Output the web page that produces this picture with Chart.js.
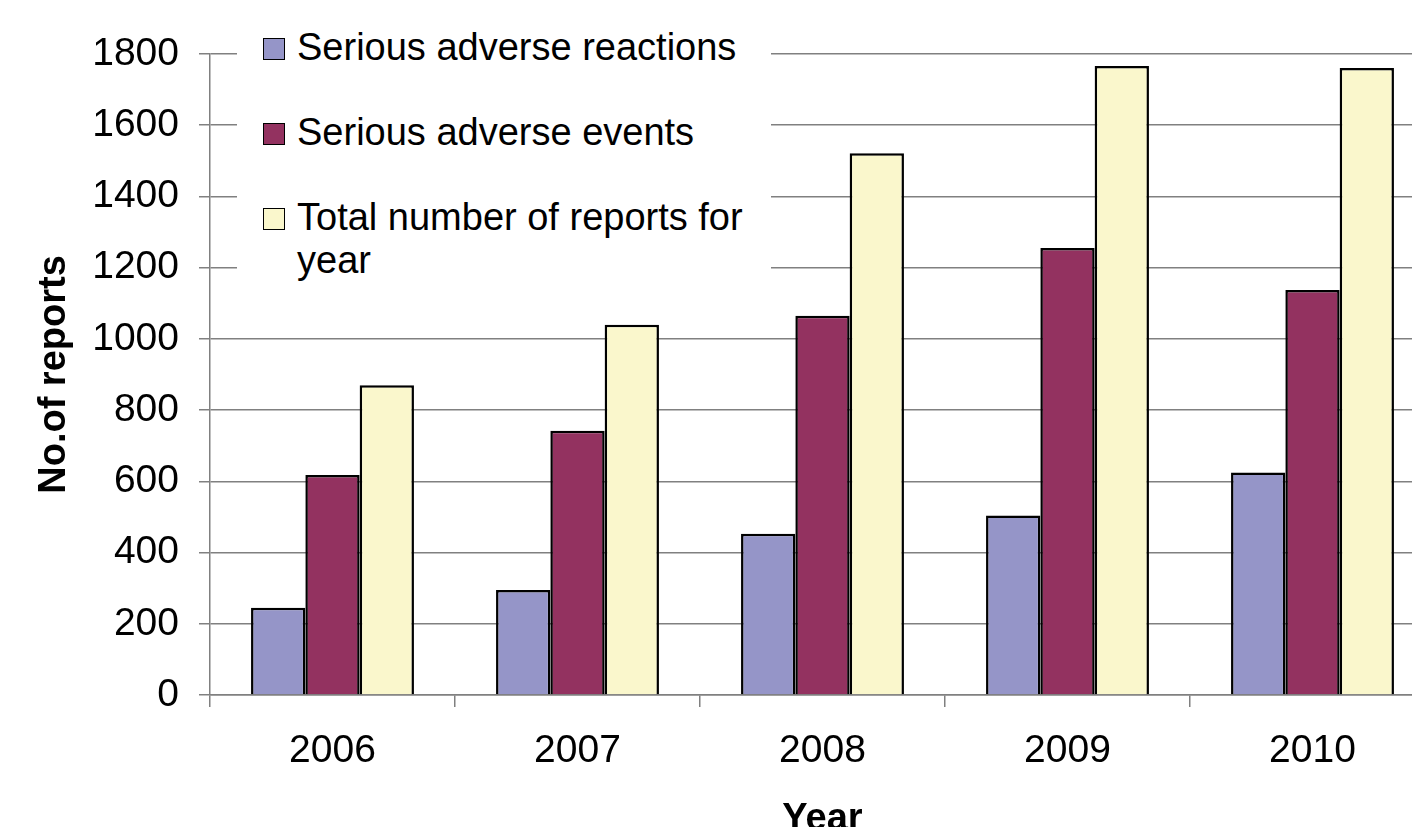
<!DOCTYPE html>
<html>
<head>
<meta charset="utf-8">
<title>Reports per year</title>
<script src="https://cdn.jsdelivr.net/npm/chart.js@4.4.1/dist/chart.umd.min.js"></script>
<style>
    html, body { margin: 0; padding: 0; background: #fff; overflow: hidden; }
    #wrap { position: relative; width: 1440px; height: 850px; }
    #legend {
        position: absolute; left: 237px; top: 18px; width: 534px; height: 270px;
        background: #fff; box-sizing: border-box; padding: 8px 0 0 26px;
        font-family: "Liberation Sans", Arial, sans-serif; font-size: 38px; line-height: 43px; color: #000;
    }
    .item { display: flex; align-items: flex-start; margin-bottom: 42px; }
    .swatch { width: 20px; height: 20px; border: 1.5px solid #000; margin-top: 12px; margin-right: 12px; flex: none; }
    .label { width: 470px; }
</style>
</head>
<body>
<div id="wrap">
    <canvas id="reportsChart"></canvas>
    <div id="legend"></div>
</div>
<script>
// Data
const years = ['2006', '2007', '2008', '2009', '2010'];
const seriousReactions = [245, 295, 453, 504, 625];
const seriousEvents = [618, 742, 1065, 1255, 1137];
const totalReports = [870, 1040, 1521, 1766, 1761];
const seriesNames = ['Serious adverse reactions', 'Serious adverse events', 'Total number of reports for year'];
const seriesColors = ['#9595c8', '#933260', '#faf7cc'];

const FONT = '"Liberation Sans", Arial, sans-serif';
const gridGrey = '#808080';

const ctx = document.getElementById('reportsChart').getContext('2d');
const reportsChart = new Chart(ctx, {
    type: 'bar',
    data: {
        labels: years,
        datasets: [seriousReactions, seriousEvents, totalReports].map((values, i) => ({
            label: seriesNames[i],
            data: values,
            backgroundColor: seriesColors[i],
            borderColor: '#000',
            borderWidth: 2.5,
            categoryPercentage: 0.665,
            barPercentage: 1.0
        }))
    },
    options: {
        responsive: true,
        maintainAspectRatio: false,
        animation: false,
        devicePixelRatio: 1,
        layout: { padding: { top: 54, right: 5, left: 0, bottom: 0 } },
        plugins: {
            legend: { display: false },
            tooltip: { enabled: false }
        },
        scales: {
            x: {
                grid: { drawOnChartArea: false, drawTicks: true, tickLength: 12, offset: true, color: gridGrey, lineWidth: 1.5 },
                border: { color: gridGrey, width: 1.5 },
                ticks: { color: '#000', padding: 21, font: { family: FONT, size: 39 } },
                title: { display: true, text: 'Year', color: '#000', padding: { top: 0, bottom: 8 }, font: { family: FONT, size: 38, weight: 'bold' } },
                afterFit: scale => { scale.height = 155; }
            },
            y: {
                min: 0,
                max: 1800,
                ticks: { stepSize: 200, color: '#000', padding: 20, font: { family: FONT, size: 39 }, callback: v => String(v) },
                grid: { color: gridGrey, lineWidth: 1.5, tickLength: 11 },
                border: { color: gridGrey, width: 1.5 },
                title: { display: true, text: 'No.of reports', color: '#000', padding: { top: 32, bottom: 0 }, font: { family: FONT, size: 38, weight: 'bold' } },
                afterFit: scale => { scale.width = 210; }
            }
        }
    }
});

// Legend built from the chart's datasets
const legendBox = document.getElementById('legend');
reportsChart.data.datasets.forEach(ds => {
    const item = document.createElement('div');
    item.className = 'item';
    item.innerHTML = `<span class="swatch" style="background:${ds.backgroundColor}"></span><span class="label">${ds.label}</span>`;
    legendBox.appendChild(item);
});
</script>
</body>
</html>
